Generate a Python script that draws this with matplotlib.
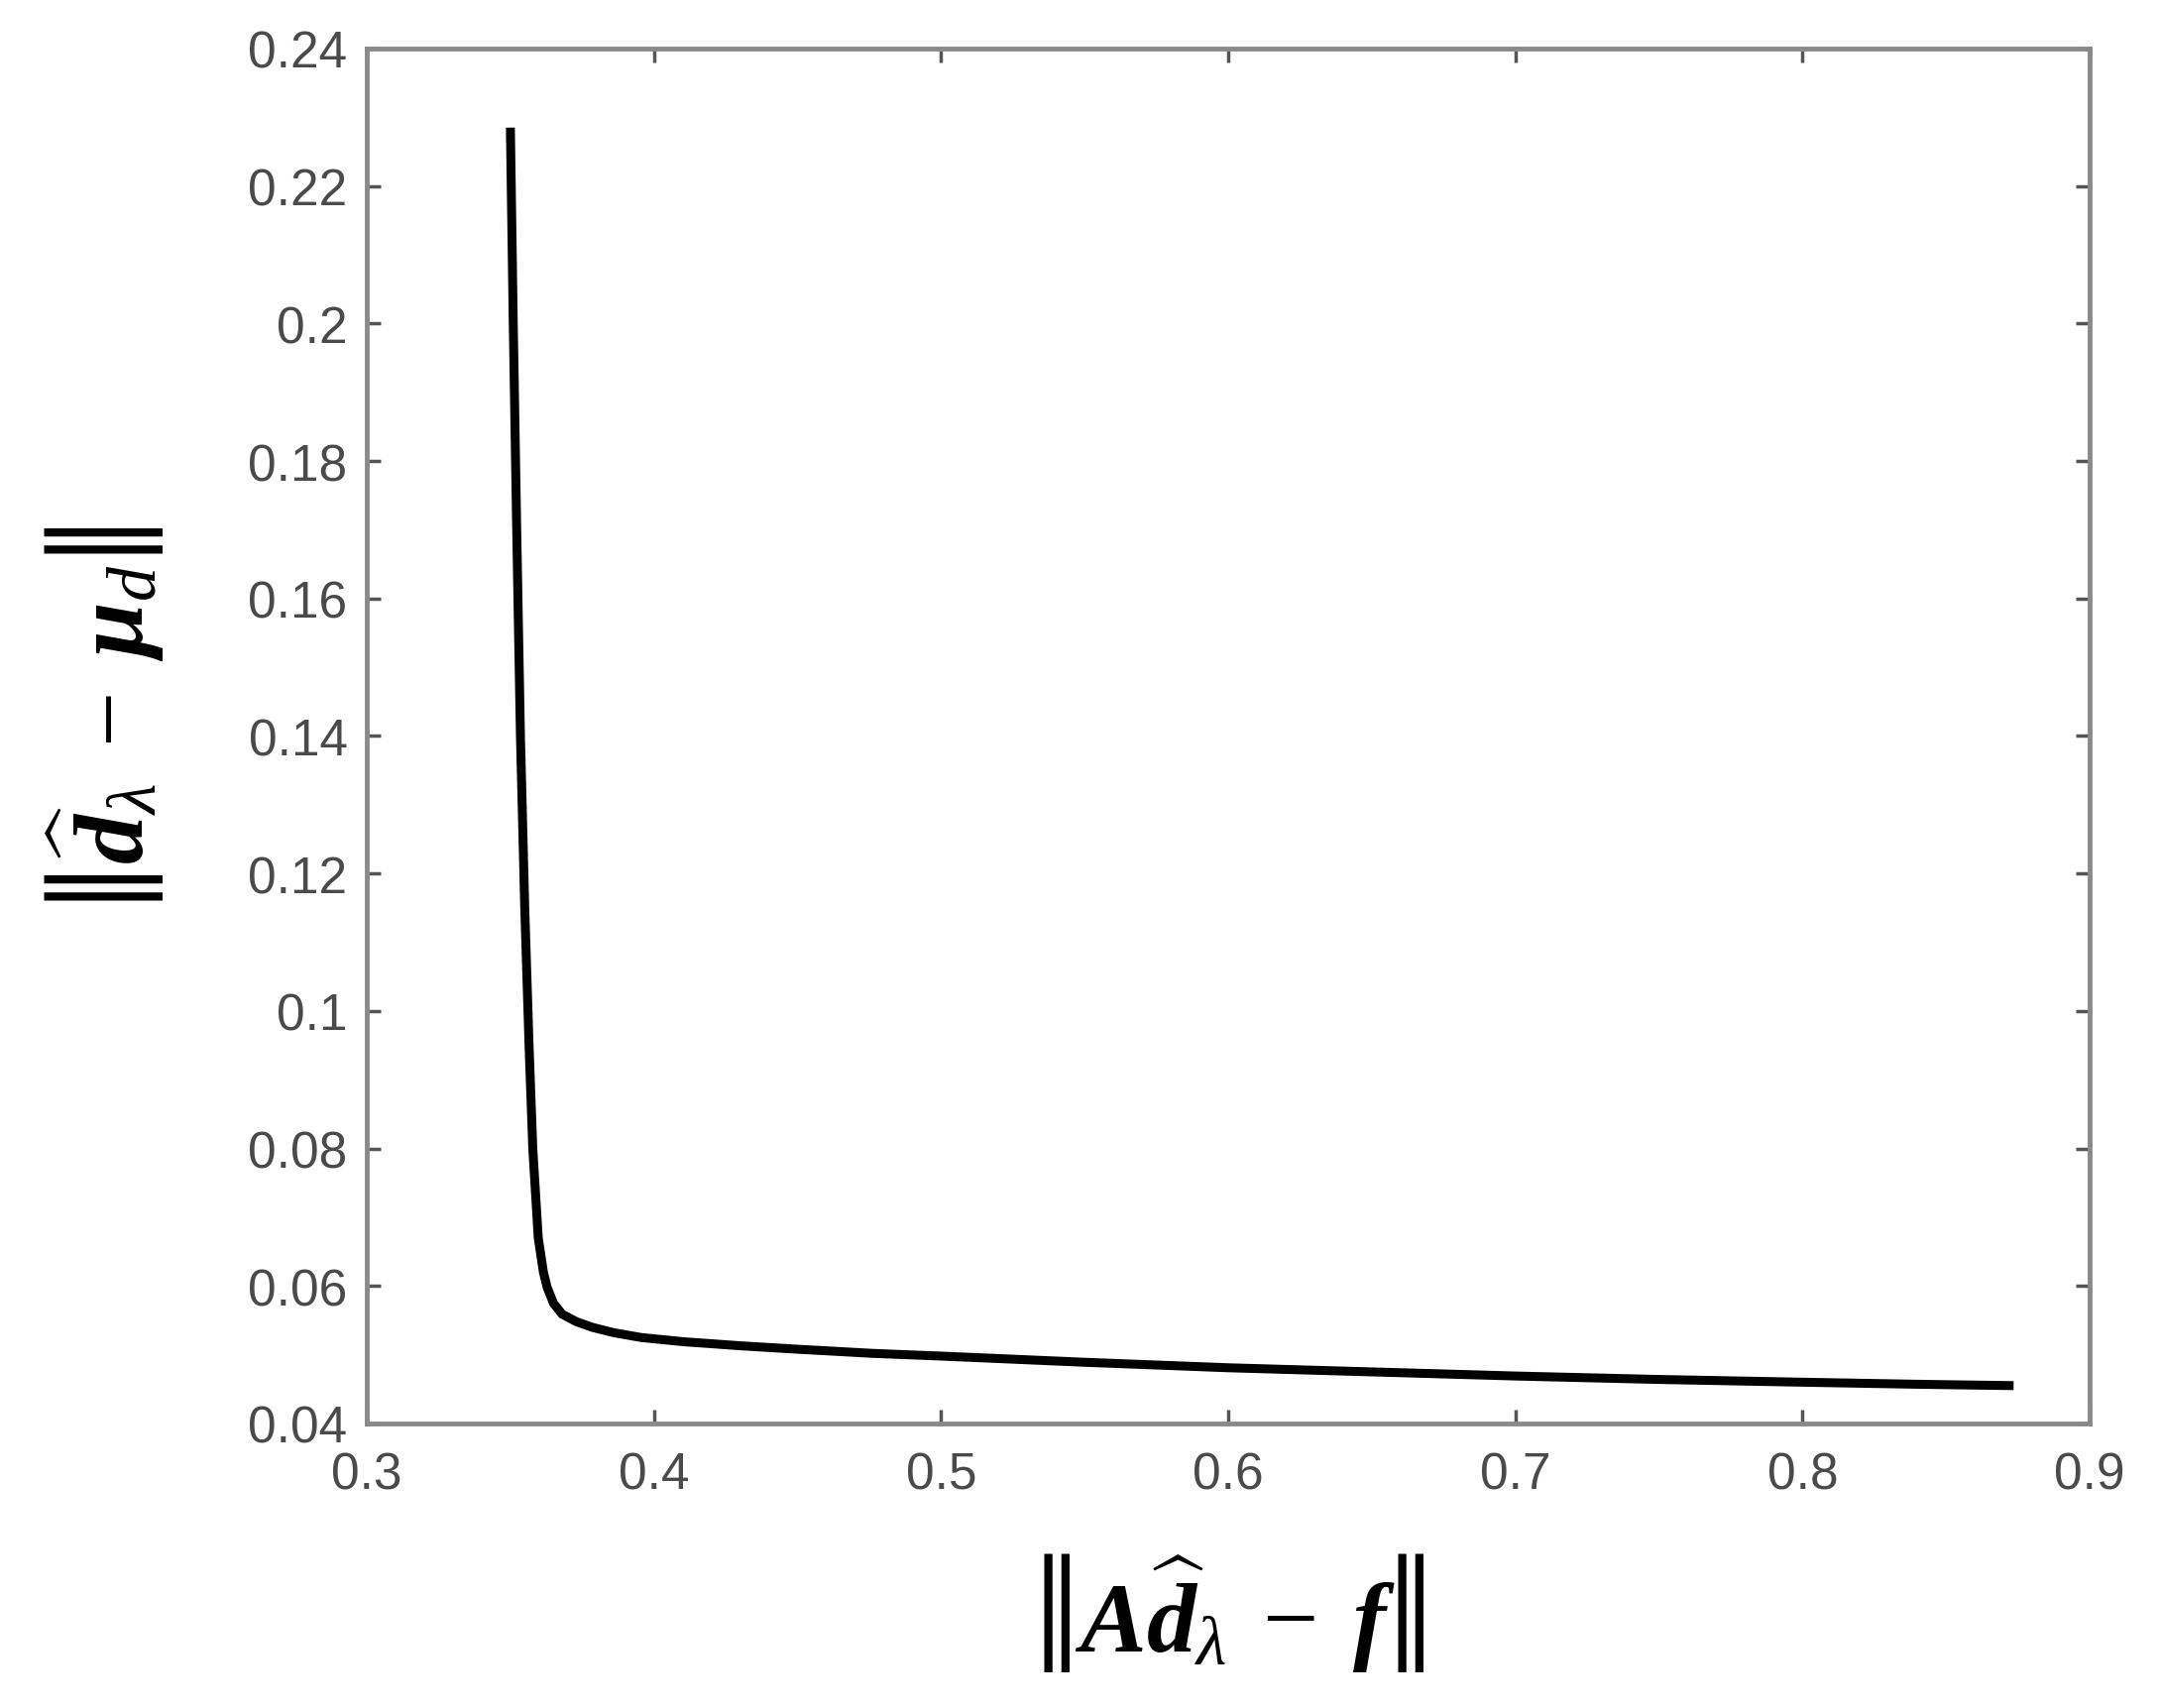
import matplotlib.pyplot as plt

# L-curve
residual_norm = [0.3500, 0.3510, 0.3522, 0.3535, 0.3550, 0.3565, 0.3578, 0.3597,
                 0.3615, 0.3628, 0.3650, 0.3680, 0.3730, 0.3784, 0.3860, 0.3956,
                 0.4100, 0.4301, 0.4500, 0.4760, 0.5000, 0.5500, 0.6000, 0.6500,
                 0.7000, 0.7500, 0.8000, 0.8400, 0.8735]
solution_norm = [0.2285, 0.2000, 0.1700, 0.1400, 0.1150, 0.0950, 0.0800, 0.0670,
                 0.0620, 0.0598, 0.0575, 0.0559, 0.0548, 0.0540, 0.0532, 0.0525,
                 0.0519, 0.0513, 0.0508, 0.0502, 0.0498, 0.0489, 0.0481, 0.0475,
                 0.0469, 0.0464, 0.0460, 0.0457, 0.0455]
x_ticks = [0.3, 0.4, 0.5, 0.6, 0.7, 0.8, 0.9]
y_ticks = [0.04, 0.06, 0.08, 0.1, 0.12, 0.14, 0.16, 0.18, 0.2, 0.22, 0.24]

plt.rcParams['mathtext.fontset'] = 'custom'
plt.rcParams['mathtext.rm'] = 'Liberation Serif'
plt.rcParams['mathtext.it'] = 'Liberation Serif:italic'
plt.rcParams['mathtext.bf'] = 'Liberation Serif:bold:italic'

fig = plt.figure(figsize=(21.78, 17.24), dpi=100)
ax = fig.add_axes([0.1699, 0.1665, 0.9679 - 0.1699, 0.971 - 0.1665])

ax.plot(residual_norm, solution_norm, color='black', linewidth=6.5, solid_capstyle='butt')

ax.set_xlim(0.3, 0.9)
ax.set_ylim(0.04, 0.24)
ax.set_xticks(x_ticks)
ax.set_yticks(y_ticks)
ax.set_xticklabels(['{:g}'.format(t) for t in x_ticks])
ax.set_yticklabels(['{:g}'.format(t) for t in y_ticks])

for sp in ax.spines.values():
    sp.set_color('#8a8a8a')
    sp.set_linewidth(3.5)
ax.tick_params(direction='in', length=10, width=2.5, color='#555555',
               top=True, right=True, labelsize=37, labelcolor='#4a4a4a')
ax.tick_params(axis='x', pad=20)
ax.tick_params(axis='y', pad=14)
for lab in ax.get_xticklabels() + ax.get_yticklabels():
    lab.set_fontfamily('Liberation Sans')

ax.set_xlabel(r'$\left\Vert\mathbf{A}\widehat{\mathbf{d}}_{\lambda}\;-\;\mathbf{f}\right\Vert$', fontsize=72)
ax.set_ylabel(r'$\left\Vert\widehat{\mathbf{d}}_{\lambda}\;-\;\mathbf{\mu}_{d}\right\Vert$', fontsize=72)
ax.xaxis.set_label_coords(0.5, -0.092)
ax.yaxis.set_label_coords(-0.117, 0.513)

fig.savefig('out.png', dpi=100, facecolor='white')
